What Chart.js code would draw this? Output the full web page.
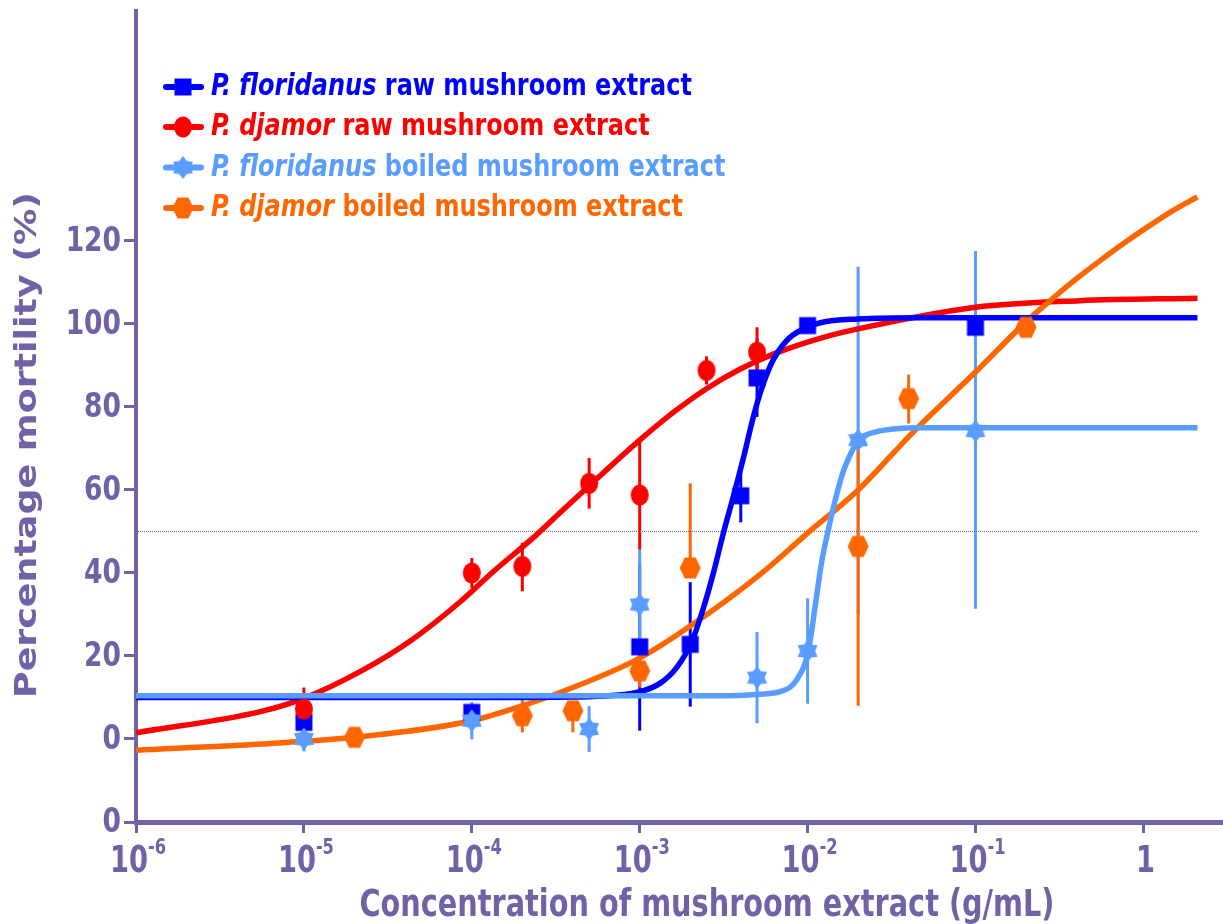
<!DOCTYPE html>
<html>
<head>
<meta charset="utf-8">
<script src="https://cdn.jsdelivr.net/npm/chart.js@4.4.1/dist/chart.umd.min.js"></script>
<style>
  body { margin: 0; background: #fff; }
</style>
</head>
<body>
<canvas id="myChart" width="1223" height="924"></canvas>
<script>
  // measured means (g/mL, % mortality) and error bars
  const rawFlorX = [1e-5, 1e-4, 1e-3, 2e-3, 4e-3, 5e-3, 1e-2, 1e-1];
  const rawFlorY = [4, 6.4, 22.2, 22.8, 58.6, 87, 99.6, 99.2];
  const rawFlorUp = [0, 0, 20, 15, 6, 9.4, 0, 0];
  const rawFlorDown = [0, 0, 20.2, 15, 6.4, 9.4, 0, 0];

  const rawDjaX = [1e-5, 1e-4, 2e-4, 5e-4, 1e-3, 2.5e-3, 5e-3];
  const rawDjaY = [7.2, 40, 41.6, 61.6, 58.8, 88.8, 93.2];
  const rawDjaUp = [5.2, 3.6, 5.7, 6.1, 12.8, 3.4, 6];
  const rawDjaDown = [5.2, 3.6, 6, 6.1, 13.2, 3.4, 6];

  const boilFlorX = [1e-5, 1e-4, 5e-4, 1e-3, 5e-3, 1e-2, 2e-2, 1e-1];
  const boilFlorY = [0, 4.4, 2.4, 32.4, 14.8, 21.2, 72, 74.2];
  const boilFlorUp = [3, 4.5, 5.5, 13.2, 11, 12.7, 41.8, 43.4];
  const boilFlorDown = [3, 4.5, 5.5, 13.2, 11, 12.7, 42, 42.8];

  const boilDjaX = [2e-5, 2e-4, 4e-4, 1e-3, 2e-3, 2e-2, 4e-2, 2e-1];
  const boilDjaY = [0.4, 5.6, 6.8, 16.4, 41.2, 46.4, 82, 99.2];
  const boilDjaUp = [0, 4, 0, 0, 20.4, 25.6, 5.8, 0];
  const boilDjaDown = [0, 4, 5.2, 4, 0, 38.4, 6, 0];

  // fitted curves
  const rawFlorFitX = [1e-6, 1e-4, 5e-4, 1e-3, 1.32e-3, 1.66e-3, 2.04e-3, 2.39e-3, 2.74e-3, 3.15e-3, 3.61e-3, 4.14e-3, 4.75e-3, 5.45e-3, 6.25e-3, 7.5e-3, 9.4e-3, 1.19e-2, 2e-2, 5e-2, 2.1];
  const rawFlorFitY = [10, 10, 10.2, 11.4, 13.4, 17.2, 23.4, 31.4, 39.8, 49.6, 58.4, 67.6, 77.6, 85.6, 91.4, 96, 98.8, 100.3, 101.2, 101.5, 101.5];

  const rawDjaFitX = [1e-6, 5.5e-6, 1e-5, 2.2e-5, 4.3e-5, 8.5e-5, 1.34e-4, 2.4e-4, 3.35e-4, 5e-4, 1e-3, 1.6e-3, 2.5e-3, 4e-3, 6.3e-3, 1.2e-2, 2e-2, 1e-1, 0.42, 2.1];
  const rawDjaFitY = [1.5, 6.6, 9.8, 16.4, 23.6, 33, 40.3, 49, 54.5, 61, 72, 78.8, 84.4, 89.2, 92.8, 96.6, 98.8, 104, 105.6, 106.2];

  const boilFlorFitX = [1e-6, 3e-3, 5.2e-3, 6.85e-3, 8.6e-3, 1.01e-2, 1.11e-2, 1.21e-2, 1.33e-2, 1.46e-2, 1.63e-2, 1.83e-2, 2e-2, 2.35e-2, 3.24e-2, 5e-2, 2.1];
  const boilFlorFitY = [10.4, 10.4, 10.8, 11.4, 14.2, 21.2, 32, 42.4, 50.5, 57.5, 64.4, 69.2, 72, 73.6, 74.7, 75, 75];

  const boilDjaFitX = [1e-6, 5.5e-6, 2e-5, 1e-4, 2e-4, 4e-4, 1e-3, 2e-3, 5.2e-3, 1e-2, 2e-2, 4.27e-2, 1e-1, 2e-1, 0.28, 0.4, 0.55, 0.75, 1.1, 1.5, 2.1];
  const boilDjaFitY = [-2.7, -1.2, 0.4, 4.4, 8, 12.4, 19.5, 27.2, 39.6, 49.6, 60, 74, 88.4, 100.5, 105.7, 110.9, 115.2, 119.2, 123.8, 127.3, 130.6];

  const refLineX = [1e-6, 2.1];
  const refLineY = [50, 50];

  const xTicks = [1e-6, 1e-5, 1e-4, 1e-3, 1e-2, 1e-1, 1];
  const xTickBase = ['10', '10', '10', '10', '10', '10', '1'];
  const xTickExp = ['-6', '-5', '-4', '-3', '-2', '-1', ''];
  const yTicks = [-20, 0, 20, 40, 60, 80, 100, 120];
  const yTickLabels = ['0', '0', '20', '40', '60', '80', '100', '120'];

  const speciesNames = ['P. floridanus', 'P. djamor', 'P. floridanus', 'P. djamor'];
  const extractNames = [' raw mushroom extract', ' raw mushroom extract', ' boiled mushroom extract', ' boiled mushroom extract'];
  const colors = ['#0000ff', '#ff0000', '#589dff', '#ff6600'];
  const purple = '#7161a7';
  const narrow = '"Liberation Sans Narrow", "DejaVu Sans Condensed", "Liberation Sans", sans-serif';
  const verdana = '"DejaVu Sans", Verdana, sans-serif';

  const pts = (xs, ys) => xs.map((x, i) => ({ x: x, y: ys[i] }));

  function makeMarker(kind, color) {
    const c = document.createElement('canvas');
    c.width = 26; c.height = 26;
    const g = c.getContext('2d');
    g.fillStyle = color;
    g.translate(13, 13);
    g.beginPath();
    if (kind === 'square') {
      g.rect(-8.5, -8.5, 17, 17);
    } else if (kind === 'oval') {
      g.ellipse(0, 0, 9, 10.5, 0, 0, Math.PI * 2);
    } else if (kind === 'star') {
      for (let i = 0; i < 12; i++) {
        const r = i % 2 ? 7.5 : 11.5;
        const a = -Math.PI / 2 + i * Math.PI / 6;
        g.lineTo(r * Math.cos(a), r * Math.sin(a));
      }
      g.closePath();
    } else {
      g.moveTo(-10.5, 0); g.lineTo(-5.5, -10.5); g.lineTo(5.5, -10.5);
      g.lineTo(10.5, 0); g.lineTo(5.5, 10.5); g.lineTo(-5.5, 10.5);
      g.closePath();
    }
    g.fill();
    return c;
  }

  const markers = [
    makeMarker('square', colors[0]),
    makeMarker('oval', colors[1]),
    makeMarker('star', colors[2]),
    makeMarker('hex', colors[3])
  ];

  const errUp = [rawFlorUp, rawDjaUp, boilFlorUp, boilDjaUp];
  const errDown = [rawFlorDown, rawDjaDown, boilFlorDown, boilDjaDown];

  const curve = (xs, ys, color, order) => ({
    data: pts(xs, ys), showLine: true, borderColor: color, borderWidth: 5.5,
    pointRadius: 0, cubicInterpolationMode: 'monotone', order: order
  });
  const markerSet = (xs, ys, i, order) => ({
    data: pts(xs, ys), showLine: false, pointStyle: markers[i],
    pointRadius: 10, backgroundColor: colors[i], borderWidth: 0, order: order,
    errUp: errUp[i], errDown: errDown[i], errColor: colors[i]
  });

  const data = {
    datasets: [
      { data: pts(refLineX, refLineY), showLine: true, borderColor: '#777', borderWidth: 1.2, borderDash: [1, 1], pointRadius: 0, order: 10 },
      curve(rawDjaFitX, rawDjaFitY, colors[1], 9),
      curve(boilDjaFitX, boilDjaFitY, colors[3], 8),
      curve(rawFlorFitX, rawFlorFitY, colors[0], 7),
      curve(boilFlorFitX, boilFlorFitY, colors[2], 6),
      markerSet(rawFlorX, rawFlorY, 0, 4),
      markerSet(rawDjaX, rawDjaY, 1, 3),
      markerSet(boilDjaX, boilDjaY, 3, 2),
      markerSet(boilFlorX, boilFlorY, 2, 1)
    ]
  };

  // error bars under everything
  const errorBars = {
    id: 'errorBars',
    beforeDatasetsDraw(chart) {
      const { ctx, scales: { x, y } } = chart;
      const drawOrder = [5, 6, 8, 7];
      ctx.save();
      ctx.lineWidth = 3;
      drawOrder.forEach(di => {
        const ds = chart.data.datasets[di];
        ctx.strokeStyle = ds.errColor;
        ds.data.forEach((p, j) => {
          const px = x.getPixelForValue(p.x);
          ctx.beginPath();
          ctx.moveTo(px, y.getPixelForValue(p.y + ds.errUp[j]));
          ctx.lineTo(px, y.getPixelForValue(p.y - ds.errDown[j]));
          ctx.stroke();
        });
      });
      ctx.restore();
    }
  };

  // text squeezed sideways to the width the figure uses
  function squeezed(ctx, text, x, y, sx) {
    ctx.save();
    ctx.translate(x, y);
    ctx.scale(sx, 1);
    ctx.fillText(text, 0, 0);
    ctx.restore();
  }

  // legend, axis titles and tick labels
  const decorations = {
    id: 'decorations',
    afterDraw(chart) {
      const { ctx, scales: { x, y } } = chart;
      ctx.save();

      // legend
      ctx.textBaseline = 'middle';
      ctx.textAlign = 'left';
      const rows = [87, 127, 167.5, 208];
      const italicFont = 'italic bold 31px ' + narrow;
      const plainFont = 'bold 31px ' + narrow;
      ctx.font = italicFont;
      let w0 = ctx.measureText(speciesNames[0]).width;
      ctx.font = plainFont;
      w0 += ctx.measureText(extractNames[0]).width;
      const legScale = 481 / w0;
      rows.forEach((ry, i) => {
        ctx.strokeStyle = colors[i];
        ctx.lineWidth = 6;
        ctx.lineCap = 'round';
        ctx.beginPath(); ctx.moveTo(166, ry); ctx.lineTo(201, ry); ctx.stroke();
        ctx.drawImage(markers[i], 183 - 13, ry - 13);
        ctx.fillStyle = colors[i];
        ctx.font = italicFont;
        squeezed(ctx, speciesNames[i], 211, ry, legScale);
        const w = ctx.measureText(speciesNames[i]).width * legScale;
        ctx.font = plainFont;
        squeezed(ctx, extractNames[i], 211 + w, ry, legScale);
      });

      ctx.fillStyle = purple;

      // y tick labels
      ctx.textAlign = 'right';
      ctx.textBaseline = 'middle';
      ctx.font = 'bold 34px ' + verdana;
      yTicks.forEach((v, i) => {
        squeezed(ctx, yTickLabels[i], 121, y.getPixelForValue(v) + 1, 0.78);
      });

      // x tick labels 10^n
      ctx.textBaseline = 'alphabetic';
      ctx.textAlign = 'left';
      ctx.font = 'bold 37px ' + narrow;
      const tickScale = 38 / ctx.measureText('10').width;
      xTicks.forEach((v, i) => {
        const px = x.getPixelForValue(v);
        ctx.font = 'bold 37px ' + narrow;
        const wb = ctx.measureText(xTickBase[i]).width * tickScale;
        ctx.font = 'bold 22px ' + narrow;
        const we = ctx.measureText(xTickExp[i]).width * tickScale;
        const left = px - (wb + we) / 2 + 2;
        ctx.font = 'bold 37px ' + narrow;
        squeezed(ctx, xTickBase[i], left, 872, tickScale);
        ctx.font = 'bold 22px ' + narrow;
        squeezed(ctx, xTickExp[i], left + wb, 854, tickScale);
      });

      // x title
      ctx.textAlign = 'center';
      ctx.font = 'bold 37px ' + narrow;
      const xTitle = 'Concentration of mushroom extract (g/mL)';
      squeezed(ctx, xTitle, 707, 916, 695 / ctx.measureText(xTitle).width);

      // y title, stretched along its length
      const yTitle = 'Percentage mortility (%)';
      ctx.translate(28, 445);
      ctx.rotate(-Math.PI / 2);
      ctx.font = 'bold 30px ' + verdana;
      ctx.textBaseline = 'middle';
      squeezed(ctx, yTitle, 0, 0, 506 / ctx.measureText(yTitle).width);
      ctx.restore();
    }
  };

  // config
  const config = {
    type: 'scatter',
    data,
    options: {
      responsive: false,
      animation: false,
      devicePixelRatio: 1,
      layout: { autoPadding: false, padding: { top: 11, left: 0, right: 0, bottom: 0 } },
      plugins: { legend: { display: false }, tooltip: { enabled: false } },
      scales: {
        x: {
          type: 'logarithmic',
          min: 1e-6,
          max: 2.98,
          afterBuildTicks: axis => { axis.ticks = xTicks.map(v => ({ value: v })); },
          afterFit: axis => { axis.height = 102; },
          ticks: { display: false },
          grid: { drawOnChartArea: false, tickLength: 11, tickWidth: 3, tickColor: purple },
          border: { color: purple, width: 5 }
        },
        y: {
          min: -20,
          max: 175.4,
          afterBuildTicks: axis => { axis.ticks = yTicks.map(v => ({ value: v })); },
          afterFit: axis => { axis.width = 136; },
          ticks: { display: false },
          grid: { drawOnChartArea: false, tickLength: 12, tickWidth: 3, tickColor: purple },
          border: { color: purple, width: 4 }
        }
      }
    },
    plugins: [errorBars, decorations]
  };

  // render init block
  const myChart = new Chart(
    document.getElementById('myChart'),
    config
  );
</script>
</body>
</html>
